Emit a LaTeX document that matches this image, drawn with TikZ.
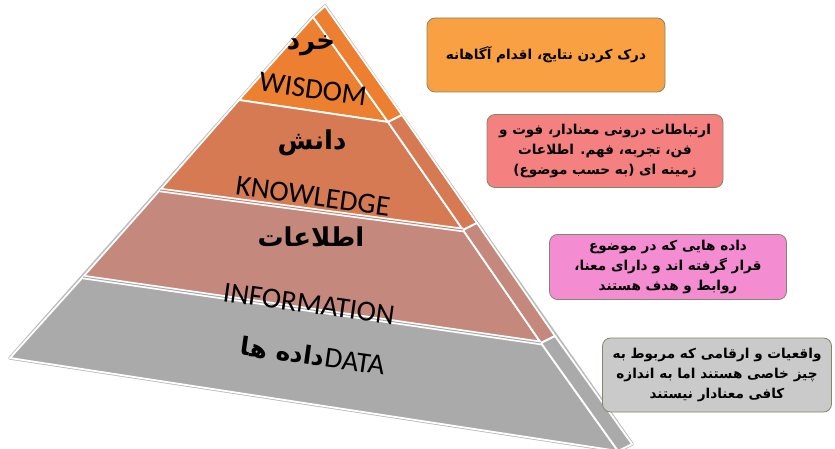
\documentclass[tikz,border=0pt]{standalone}
\usepackage{fontspec}
\setmainfont{Carlito}
\newfontfamily\arabicfont[Script=Arabic]{DejaVu Sans}
\TeXXeTstate=1

\definecolor{wisdomc}{RGB}{237,128,48}
\definecolor{knowc}{RGB}{214,122,84}
\definecolor{infoc}{RGB}{196,136,124}
\definecolor{datac}{RGB}{170,170,170}
\definecolor{boxa}{RGB}{249,160,66}
\definecolor{boxb}{RGB}{245,128,128}
\definecolor{boxc}{RGB}{243,140,208}
\definecolor{boxd}{RGB}{202,202,202}
\definecolor{boxline}{RGB}{130,134,106}

\tikzset{
  layer/.style={draw=white, line width=1.8pt, line join=round},
  entitle/.style={font=\fontsize{29}{31}\selectfont, rotate=-8, inner sep=0pt},
  fatitle/.style={font=\arabicfont\bfseries\fontsize{26}{28}\selectfont, inner sep=0pt},
  notebox/.style={draw=boxline, line width=0.8pt, rounded corners=8pt, align=center,
    font=\arabicfont\bfseries\fontsize{13.6}{20}\selectfont, inner sep=2pt}
}

\begin{document}
\begin{tikzpicture}[x=1pt,y=-1pt]
        \useasboundingbox (0,0) rectangle (835,449);
        \clip (0,0) rectangle (835,449);
        % pyramid corners
        \coordinate (apex) at (313,17);
        \coordinate (top) at (325,6);
        \coordinate (l1) at (239,100);
        \coordinate (l2) at (160,190);
        \coordinate (l3) at (83,277);
        \coordinate (l4) at (10,358);
        \coordinate (r1) at (388,122);
        \coordinate (r2) at (463,230);
        \coordinate (r3) at (541,343);
        \coordinate (r4) at (618,451);
        \coordinate (s1) at (402,115);
        \coordinate (s2) at (477,223);
        \coordinate (s3) at (555,336);
        \coordinate (s4) at (632,444);
        \draw [gray!55,line width=3.4pt,line join=round]
        (l4) -- (apex) -- (top) -- (s4) -- (r4) -- cycle;
        % layers, front faces
        \foreach \a/\b/\c/\d/\col in {%
          apex/l1/r1/apex/wisdomc,
          l1/l2/r2/r1/knowc,
          l2/l3/r3/r2/infoc,
          l3/l4/r4/r3/datac} {
            \filldraw [layer,fill=\col] (\a) -- (\b) -- (\c) -- (\d) -- cycle;
        }
        % side faces
        \foreach \a/\b/\c/\d/\col in {%
          apex/r1/s1/top/wisdomc,
          r1/r2/s2/s1/knowc,
          r2/r3/s3/s2/infoc,
          r3/r4/s4/s3/datac} {
            \filldraw [layer,fill=\col] (\a) -- (\b) -- (\c) -- (\d) -- cycle;
        }
        \foreach \a/\b/\col in {l2/r2/infoc, l3/r3/datac} {
          \draw [white,line width=4.4pt] (\a) -- (\b);
          \draw [\col,line width=1pt] (\a) -- (\b);
        }
        % layer titles
        \node[fatitle] (wisdomfa) at (311,46) {\beginR خرد\endR};
        \node[entitle] (wisdomen) at (313,89) {WISDOM};
        \node[fatitle] (knowfa) at (312,143) {\beginR دانش\endR};
        \node[entitle] (knowen) at (313,196) {KNOWLEDGE};
        \node[fatitle] (infofa) at (311,237) {\beginR اطلاعات\endR};
        \node[entitle] (infoen) at (309,304) {INFORMATION};
        \node[entitle] (dataen) at (313,356)
          {{\arabicfont\bfseries\fontsize{25}{27}\selectfont\beginR داده ها\endR}DATA};
        % notes on the right
        \node[notebox,fill=boxa,minimum width=238pt,minimum height=74pt] (wisdomnote) at (546,55)
          {\beginR درک کردن نتایج، اقدام آگاهانه\endR};
        \node[notebox,fill=boxb,minimum width=236pt,minimum height=73pt] (knownote) at (605,151)
          {\beginR ارتباطات درونی معنادار، فوت و\endR\\
           \beginR فن، تجربه، فهم. اطلاعات\endR\\
           \beginR زمینه ای (به حسب موضوع)\endR};
        \node[notebox,fill=boxc,minimum width=237pt,minimum height=65pt] (infonote) at (668,267)
          {\beginR داده هایی که در موضوع\endR\\
           \beginR قرار گرفته اند و دارای معنا،\endR\\
           \beginR روابط و هدف هستند\endR};
        \node[notebox,fill=boxd,minimum width=229pt,minimum height=74pt] (datanote) at (717,375)
          {\beginR واقعیات و ارقامی که مربوط به\endR\\
           \beginR چیز خاصی هستند اما به اندازه\endR\\
           \beginR کافی معنادار نیستند\endR};
\end{tikzpicture}
\end{document}
